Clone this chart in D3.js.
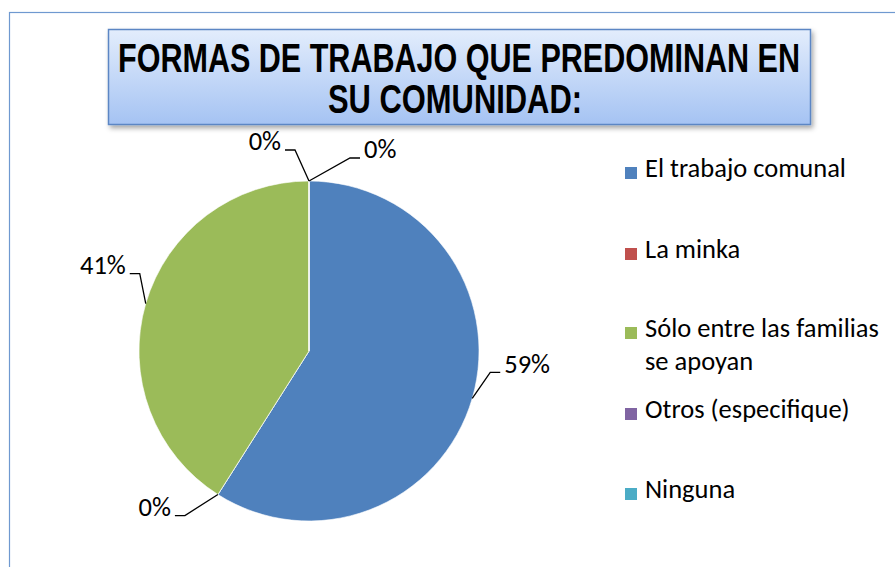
<!DOCTYPE html>
<html>
<head>
<meta charset="utf-8">
<script src="https://cdn.jsdelivr.net/npm/d3@7"></script>
<style>
  body { margin: 0; background: #fff; }
  svg { display: block; }
</style>
</head>
<body>
<svg id="chart"></svg>
<script>
// data
const categories = ["El trabajo comunal", "La minka", "Sólo entre las familias se apoyan", "Otros (especifique)", "Ninguna"];
const legendLines = [["El trabajo comunal"], ["La minka"], ["Sólo entre las familias", "se apoyan"], ["Otros (especifique)"], ["Ninguna"]];
const values = [59, 0, 41, 0, 0];
const colors = ["#4f81bd", "#c0504d", "#9bbb59", "#8064a2", "#4bacc6"];
const titleLines = ["FORMAS DE TRABAJO QUE PREDOMINAN EN", "SU COMUNIDAD:"];

// where each label's leader bends, relative to the slice edge point
const elbow = [[18, -26], [-33, 21], [-6, -30], [-14, -31], [41, -23]];

const width = 895, height = 567;
const svg = d3.select("#chart").attr("width", width).attr("height", height);

const defs = svg.append("defs");
const grad = defs.append("linearGradient").attr("id", "titleGrad")
  .attr("x1", 0).attr("y1", 0).attr("x2", 0).attr("y2", 1);
grad.append("stop").attr("offset", "0%").attr("stop-color", "#e3edfc");
grad.append("stop").attr("offset", "100%").attr("stop-color", "#a5c3f3");
const shadow = defs.append("filter").attr("id", "shadow")
  .attr("x", "-5%").attr("y", "-20%").attr("width", "110%").attr("height", "150%");
shadow.append("feDropShadow").attr("dx", 2).attr("dy", 3).attr("stdDeviation", 2.5)
  .attr("flood-color", "#000").attr("flood-opacity", 0.35);

// outer chart border
svg.append("rect")
  .attr("x", 9.5).attr("y", 12.5)
  .attr("width", width + 20).attr("height", height + 20)
  .attr("fill", "#fff")
  .attr("stroke", "#6f99d0").attr("stroke-width", 1.2);

// title box
svg.append("rect")
  .attr("x", 108.5).attr("y", 29.5)
  .attr("width", 702).attr("height", 95)
  .attr("fill", "url(#titleGrad)")
  .attr("stroke", "#5b86c4").attr("stroke-width", 1.5)
  .attr("filter", "url(#shadow)");

svg.selectAll(".title")
  .data(titleLines)
  .enter()
  .append("text")
  .attr("class", "title")
  .attr("x", (d, i) => i === 0 ? 459 : 455)
  .attr("y", (d, i) => 72 + i * 41)
  .attr("text-anchor", "middle")
  .attr("font-family", "'Liberation Sans Narrow', 'Arial Narrow', 'Liberation Sans', Arial, sans-serif")
  .attr("font-weight", "bold")
  .attr("font-size", 40)
  .attr("textLength", (d, i) => i === 0 ? 682 : 254)
  .attr("lengthAdjust", "spacingAndGlyphs")
  .attr("fill", "#000")
  .text(d => d);

// pie
const cx = 309, cy = 351, r = 170;
const pie = d3.pie().sort(null).value(d => d.value);
const arcs = pie(categories.map((c, i) => ({ name: c, value: values[i], color: colors[i] })));
const arc = d3.arc().innerRadius(0).outerRadius(r);

const g = svg.append("g").attr("transform", `translate(${cx},${cy})`);
g.selectAll("path.slice")
  .data(arcs)
  .enter()
  .append("path")
  .attr("class", "slice")
  .attr("d", arc)
  .attr("fill", d => d.data.color)
  .attr("stroke", "#fff")
  .attr("stroke-width", 0.6);

// leader lines + labels
const labelFont = "Carlito, Calibri, 'Open Sans', sans-serif";
const fontSize = 26.5;
arcs.forEach((d, i) => {
  const mid = (d.startAngle + d.endAngle) / 2;
  const px = Math.sin(mid) * r, py = -Math.cos(mid) * r;
  const ex = px + elbow[i][0], ey = py + elbow[i][1];
  const dir = elbow[i][0] >= 0 ? 1 : -1;
  const tx = ex + dir * 10;
  g.append("polyline")
    .attr("points", `${px},${py} ${ex},${ey} ${tx},${ey}`)
    .attr("fill", "none")
    .attr("stroke", "#000")
    .attr("stroke-width", 1.3);
  g.append("text")
    .attr("x", tx + dir * 4)
    .attr("y", ey - 9)
    .attr("dy", "0.35em")
    .attr("text-anchor", dir > 0 ? "start" : "end")
    .attr("font-family", labelFont)
    .attr("font-size", fontSize)
    .attr("fill", "#000")
    .text(d3.format(".0%")(d.value / d3.sum(values)));
});

// legend
const legendY = [173, 254, 333, 414, 494];
const legend = svg.append("g").attr("transform", "translate(625,0)");
categories.forEach((c, i) => {
  legend.append("rect")
    .attr("x", 0).attr("y", legendY[i] - 6)
    .attr("width", 12).attr("height", 12)
    .attr("fill", colors[i]);
  legend.append("text")
    .attr("x", 20).attr("y", legendY[i] + 4)
    .attr("dy", "0.35em")
    .attr("font-family", labelFont)
    .attr("font-size", fontSize)
    .attr("fill", "#000")
    .selectAll("tspan")
    .data(legendLines[i])
    .enter()
    .append("tspan")
    .attr("x", 20)
    .attr("dy", (t, j) => j === 0 ? 0 : 33)
    .text(t => t);
});
</script>
</body>
</html>
